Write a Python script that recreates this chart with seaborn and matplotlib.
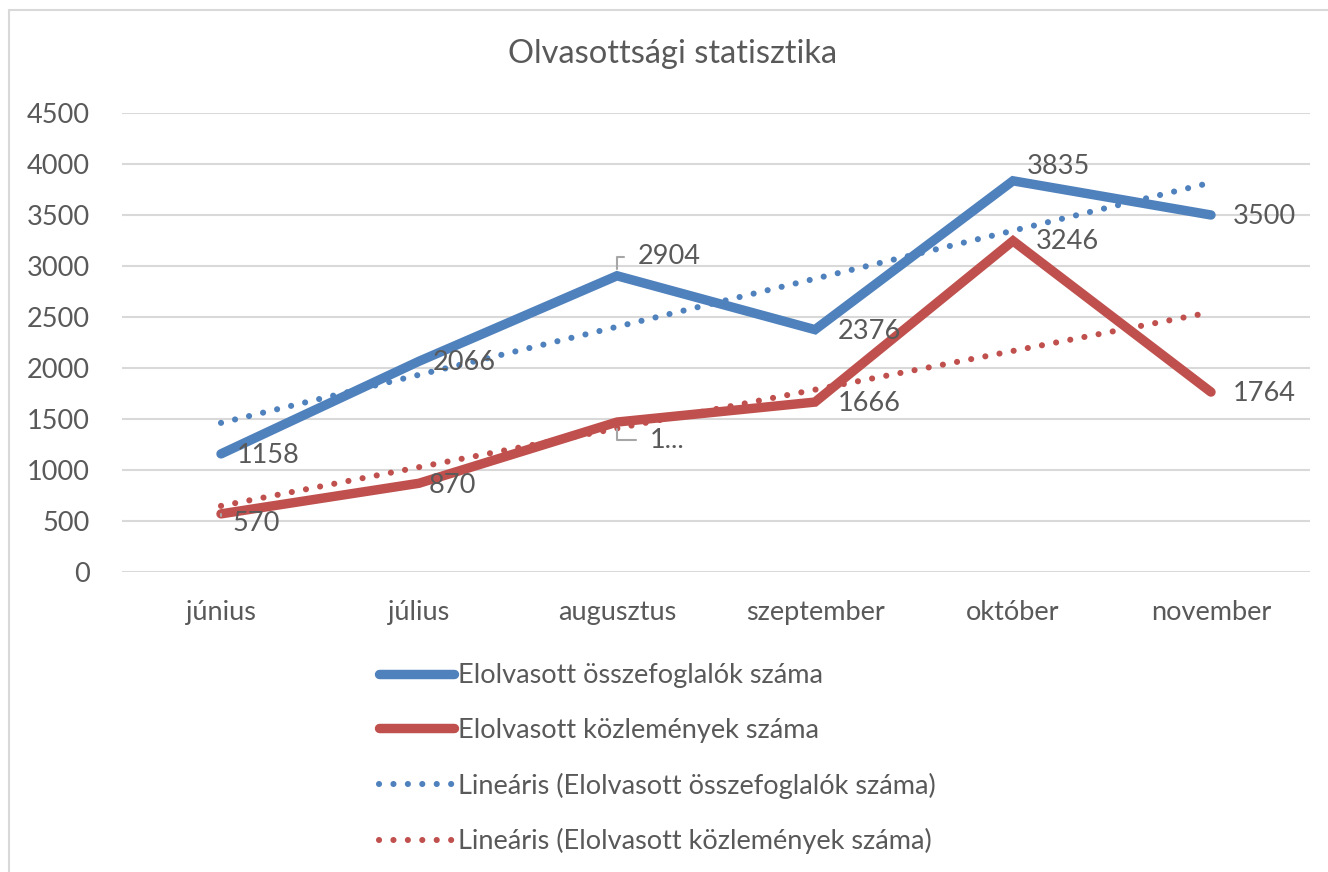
import seaborn as sns
import matplotlib.pyplot as plt
import numpy as np
import pandas as pd

# monthly reading statistics (June - November)
months = ['június', 'július', 'augusztus', 'szeptember', 'október', 'november']
summaries = [1158, 2066, 2904, 2376, 3835, 3500]
articles = [570, 870, 1470, 1666, 3246, 1764]
summary_labels = ['1158', '2066', '2904', '2376', '3835', '3500']
article_labels = ['570', '870', '1...', '1666', '3246', '1764']
series_names = ['Elolvasott összefoglalók száma', 'Elolvasott közlemények száma']
trend_names = ['Lineáris (Elolvasott összefoglalók száma)',
               'Lineáris (Elolvasott közlemények száma)']

blue = '#4F81BD'
red = '#C0504D'
text_col = '#595959'
fs = 19.5

sns.set_theme(style='white')
plt.rcParams['font.family'] = ['Lato', 'DejaVu Sans']

df = pd.DataFrame({'pos': np.arange(len(months)), 'sum': summaries, 'art': articles})

fig = plt.figure(figsize=(13.28, 8.72), dpi=100)
ax = fig.add_axes([122 / 1328, 1 - 572 / 872, 1188 / 1328, 459 / 872])

# main series
sns.lineplot(data=df, x='pos', y='sum', ax=ax, color=blue, lw=6.8,
             solid_capstyle='round', solid_joinstyle='miter', label=series_names[0], zorder=3)
sns.lineplot(data=df, x='pos', y='art', ax=ax, color=red, lw=6.8,
             solid_capstyle='round', solid_joinstyle='miter', label=series_names[1], zorder=3)

# linear trend lines
dots = (0, (0.01, 2.35))
sns.regplot(data=df, x='pos', y='sum', ax=ax, scatter=False, ci=None, truncate=True,
            line_kws=dict(color=blue, lw=4.4, ls=dots, dash_capstyle='round', zorder=4),
            label=trend_names[0])
sns.regplot(data=df, x='pos', y='art', ax=ax, scatter=False, ci=None, truncate=True,
            line_kws=dict(color=red, lw=4.4, ls=dots, dash_capstyle='round', zorder=4),
            label=trend_names[1])

# data labels (offsets in pixels), some with leader lines
sum_off = [(16, -2), (14, -1), (21, 19), (23, -2), (14, 14), (22, -1)]
art_off = [(11, -10), (10, -2), (33, -18), (23, -1), (23, -1), (22, -1)]
sum_lead = [False, False, True, False, False, False]
art_lead = [True, False, True, False, False, False]

for vals, labs, offs, leads in [(summaries, summary_labels, sum_off, sum_lead),
                                (articles, article_labels, art_off, art_lead)]:
    for i, (v, t, o, ld) in enumerate(zip(vals, labs, offs, leads)):
        kw = {}
        if ld:
            kw['arrowprops'] = dict(arrowstyle='-', color='#a6a6a6', lw=1.5,
                                    connectionstyle='angle,angleA=0,angleB=90,rad=0',
                                    relpos=(0, 0.5), shrinkA=8, shrinkB=5)
        ax.annotate(t, (i, v), xytext=o, textcoords='offset pixels',
                    ha='left', va='center', fontsize=fs, color=text_col, zorder=5, **kw)

ax.set_xlim(-0.5, 5.5)
ax.set_ylim(0, 4500)
ax.set_yticks(range(0, 4501, 500))
ax.set_xticks(range(len(months)))
ax.set_xticklabels(months)
ax.set_xlabel('')
ax.set_ylabel('')
ax.grid(axis='y', color='#d9d9d9', lw=1.5)
ax.set_axisbelow(True)
for s in ax.spines.values():
    s.set_visible(False)
ax.tick_params(axis='both', length=0, labelsize=fs, labelcolor=text_col)
ax.tick_params(axis='x', pad=20)
ax.tick_params(axis='y', pad=23)

fig.text(673 / 1328, 1 - 54 / 872, 'Olvasottsági statisztika', ha='center', va='center',
         fontsize=23.5, color=text_col)

# legend below the plot
handles, labels = ax.get_legend_handles_labels()
if ax.get_legend():
    ax.get_legend().remove()
fig.legend(handles, labels, loc='upper left', bbox_to_anchor=(355 / 1328, 1 - 639 / 872),
           frameon=False, fontsize=fs, handlelength=2.75, handletextpad=0.15,
           labelspacing=1.09, labelcolor=text_col)

# chart border
fig.add_artist(plt.Line2D([9 / 1328, 1], [1 - 10 / 872, 1 - 10 / 872], color='#d9d9d9', lw=1.5))
fig.add_artist(plt.Line2D([9 / 1328, 9 / 1328], [0, 1 - 10 / 872], color='#d9d9d9', lw=1.5))

fig.savefig('out.png', dpi=100)
